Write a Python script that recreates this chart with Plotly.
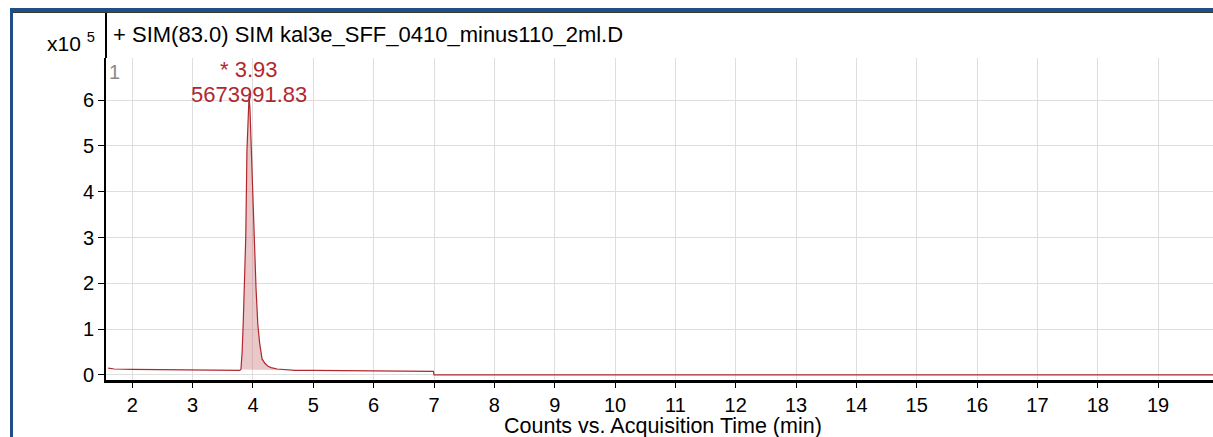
import plotly.graph_objects as go

# Acquisition time (min)
times = [1.60, 1.70, 2.00, 2.50, 3.00, 3.50, 3.78, 3.80, 3.82, 3.84, 3.86, 3.88,
         3.90, 3.92, 3.935, 3.95, 3.97, 3.99, 4.01, 4.03, 4.05, 4.08, 4.11, 4.15,
         4.20, 4.25, 4.30, 4.40, 4.50, 4.60, 4.70, 5.00, 5.50, 6.00, 6.50, 6.99,
         7.00, 8.00, 10.00, 12.00, 14.00, 16.00, 18.00, 20.00]
# Counts (x10^5)
counts = [0.15, 0.13, 0.12, 0.115, 0.11, 0.105, 0.10, 0.12, 0.50, 1.20, 2.00, 3.00,
          4.90, 5.90, 6.10, 5.80, 5.00, 4.20, 3.70, 2.50, 1.90, 1.10, 0.70, 0.35,
          0.25, 0.19, 0.16, 0.13, 0.115, 0.105, 0.10, 0.10, 0.095, 0.09, 0.085, 0.08,
          0.0, 0.0, 0.0, 0.0, 0.0, 0.0, 0.0, 0.0]

peak_start, peak_end = 3.80, 4.60
peak_rt = "3.93"
peak_value = "5673991.83"
x_ticks = list(range(2, 20))
y_ticks = list(range(0, 7))

RED = "#b0282e"
FONT = "Liberation Sans, Arial, Helvetica, sans-serif"

# pixel layout helpers
W, H = 1213, 437
L, R, T, B = 106, 0, 58, 57
pw, ph = W - L - R, H - T - B
def px(x):
    return (x - L) / pw
def py(y):
    return (H - B - y) / ph

pk_t = [t for t in times if peak_start <= t <= peak_end]
pk_v = [v for t, v in zip(times, counts) if peak_start <= t <= peak_end]
base_t = [pk_t[0], pk_t[-1]]
base_v = [pk_v[0], pk_v[-1]]

fig = go.Figure()
fig.add_trace(go.Scatter(x=base_t, y=base_v, mode="lines",
                         line=dict(width=0, color=RED), showlegend=False, hoverinfo="skip"))
fig.add_trace(go.Scatter(x=pk_t, y=pk_v, mode="lines", fill="tonexty",
                         fillcolor="rgba(200,110,115,0.38)",
                         line=dict(width=0, color=RED), showlegend=False, hoverinfo="skip"))
fig.add_trace(go.Scatter(x=times, y=counts, mode="lines",
                         line=dict(color=RED, width=1.2), showlegend=False))

fig.update_layout(
    width=W, height=H,
    margin=dict(l=L, r=R, t=T, b=B, pad=0),
    paper_bgcolor="white", plot_bgcolor="white",
    font=dict(family=FONT, size=20, color="black"),
    xaxis=dict(range=[1.564, 19.91], tickvals=x_ticks, showgrid=True,
               gridcolor="#dedede", gridwidth=1, zeroline=False,
               showline=True, linecolor="black", linewidth=2.5,
               ticks="outside", ticklen=5, tickcolor="black",
               tickfont=dict(size=20, family=FONT)),
    yaxis=dict(range=[-0.11, 6.92], tickvals=y_ticks, showgrid=True,
               gridcolor="#dedede", gridwidth=1, zeroline=False,
               showline=True, linecolor="black", linewidth=2,
               ticks="outside", ticklen=6, tickcolor="black",
               tickfont=dict(size=20, family=FONT)),
)

ann = [
    dict(text="+ SIM(83.0) SIM kal3e_SFF_0410_minus110_2ml.D", xref="paper", yref="paper",
         x=px(111), y=py(34), xanchor="left", yanchor="middle", showarrow=False,
         font=dict(size=22, color="black")),
    dict(text="x10 <sup>5</sup>", xref="paper", yref="paper",
         x=px(97), y=py(42), xanchor="right", yanchor="middle", showarrow=False,
         font=dict(size=21, color="black")),
    dict(text="1", xref="paper", yref="paper",
         x=px(107), y=py(72), xanchor="left", yanchor="middle", showarrow=False,
         font=dict(size=20, color="#8a8a8a")),
    dict(text="* " + peak_rt, xref="x", yref="paper",
         x=float(peak_rt), y=py(69), xanchor="center", yanchor="middle", showarrow=False,
         font=dict(size=22, color=RED)),
    dict(text=peak_value, xref="x", yref="paper",
         x=float(peak_rt), y=py(94), xanchor="center", yanchor="middle", showarrow=False,
         font=dict(size=22, color=RED)),
    dict(text="Counts vs. Acquisition Time (min)", xref="paper", yref="paper",
         x=px(663), y=py(426), xanchor="center", yanchor="middle", showarrow=False,
         font=dict(size=21.5, color="black")),
]
fig.update_layout(annotations=ann)

shapes = [
    # blue frame
    dict(type="line", xref="paper", yref="paper", x0=px(11.5), x1=px(1213), y0=py(10), y1=py(10),
         line=dict(color="#1f4e89", width=4)),
    dict(type="line", xref="paper", yref="paper", x0=px(11.5), x1=px(11.5), y0=py(8), y1=py(437),
         line=dict(color="#1f4e89", width=3)),
    dict(type="line", xref="paper", yref="paper", x0=px(13), x1=px(1213), y0=py(12.5), y1=py(12.5),
         line=dict(color="#3a3a2a", width=1)),
    # title box left border
    dict(type="line", xref="paper", yref="paper", x0=0, x1=0, y0=1, y1=py(13),
         line=dict(color="black", width=2)),
]
fig.update_layout(shapes=shapes)

fig.write_html("out.html", config={"displayModeBar": False},
               post_script="document.body.style.margin='0';document.body.style.overflow='hidden';")
